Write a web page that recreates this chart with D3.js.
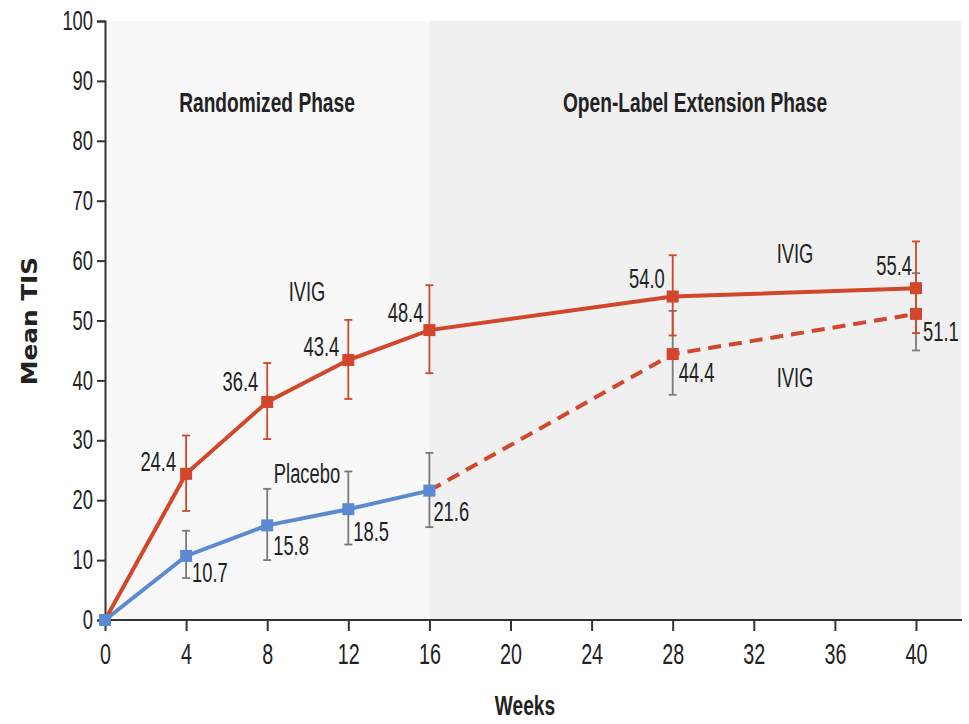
<!DOCTYPE html>
<html>
<head>
<meta charset="utf-8">
<script src="https://cdn.jsdelivr.net/npm/d3@7"></script>
<style>
  body { margin: 0; background: #fff; }
  text { font-family: "Liberation Sans", Arial, sans-serif; fill: #222; }
</style>
</head>
<body>
<div id="chart"></div>
<script>
// week values and tick labels
var xTicks = [0, 4, 8, 12, 16, 20, 24, 28, 32, 36, 40];
var yTicks = [0, 10, 20, 30, 40, 50, 60, 70, 80, 90, 100];

// IVIG group (solid red line)
var ivigWeeks = [0, 4, 8, 12, 16, 28, 40];
var ivigMean = [0, 24.4, 36.4, 43.4, 48.4, 54.0, 55.4];
var ivigHigh = [null, 30.8, 42.9, 50.1, 55.9, 60.9, 63.2];
var ivigLow = [null, 18.2, 30.2, 36.9, 41.2, 47.5, 47.9];

// placebo group, randomized phase (blue line)
var placeboWeeks = [0, 4, 8, 12, 16];
var placeboMean = [0, 10.7, 15.8, 18.5, 21.6];
var placeboHigh = [null, 14.9, 21.9, 24.8, 27.9];
var placeboLow = [null, 7.0, 10.0, 12.6, 15.5];

// placebo group switched to IVIG in extension (dashed red line)
var switchWeeks = [16, 28, 40];
var switchMean = [21.6, 44.4, 51.1];
var switchHigh = [null, 51.6, 57.9];
var switchLow = [null, 37.6, 45.0];

var width = 969, height = 724;
var margin = {top: 21, right: 7, bottom: 104, left: 105};
var red = '#d2472b', blue = '#5b8ad2', gray = '#7a7a7a';
var squeeze = 0.68;   // narrow type like the original

var svg = d3.select('#chart').append('svg').attr('width', width).attr('height', height);

var x = d3.scaleLinear().domain([0, 40]).range([margin.left, 916]);
var y = d3.scaleLinear().domain([0, 100]).range([height - margin.bottom, margin.top]);

// condensed text helper
function ctext(str, px, py, size, anchor, bold, sx) {
    return svg.append('text')
        .attr('transform', 'translate(' + px + ',' + py + ') scale(' + (sx || squeeze) + ',1)')
        .attr('dy', '0.35em')
        .attr('text-anchor', anchor || 'middle')
        .style('font-size', size + 'px')
        .style('font-weight', bold ? 'bold' : 'normal')
        .text(str);
}

// phase backgrounds
svg.append('rect')
    .attr('x', x(0)).attr('y', y(100))
    .attr('width', x(16) - x(0)).attr('height', y(0) - y(100))
    .attr('fill', '#f8f8f8');
svg.append('rect')
    .attr('x', x(16)).attr('y', y(100))
    .attr('width', 961 - x(16)).attr('height', y(0) - y(100))
    .attr('fill', '#f0f0f0');

ctext('Randomized Phase', 267, 103, 27, 'middle', true, 0.71);
ctext('Open-Label Extension Phase', 695, 103, 27, 'middle', true, 0.71);

// axes
var yAxis = svg.append('g').attr('transform', 'translate(' + x(0) + ',0)')
    .call(d3.axisLeft(y).tickValues(yTicks).tickSize(8).tickPadding(3));
var xAxis = svg.append('g').attr('transform', 'translate(0,' + y(0) + ')')
    .call(d3.axisBottom(x).tickValues(xTicks).tickSize(11).tickPadding(12));
xAxis.select('.domain').attr('d', 'M' + x(0) + ',0H962');
[yAxis, xAxis].forEach(function (g) {
    g.select('.domain').attr('stroke', '#333').attr('stroke-width', 2);
    g.selectAll('.tick line').attr('stroke', '#333').attr('stroke-width', 2);
    g.selectAll('.tick text').attr('fill', '#222')
        .style('font-family', '"Liberation Sans", Arial, sans-serif')
        .attr('transform', 'scale(' + squeeze + ',1)');
});
yAxis.selectAll('.tick text').style('font-size', '27px').attr('x', -12 / squeeze);
xAxis.selectAll('.tick text').style('font-size', '29px');

ctext('Weeks', 525, 706, 27, 'middle', true, 0.71);
svg.append('text').attr('transform', 'translate(30,321) rotate(-90) scale(1.18,1)').attr('text-anchor', 'middle')
    .attr('dy', '0.35em')
    .style('font-family', '"DejaVu Sans", sans-serif')
    .style('font-size', '21px').style('font-weight', 'bold').text('Mean TIS');

function makeSeries(wk, mean, hi, lo) {
    return wk.map(function (w, i) {
        return {week: w, mean: mean[i], hi: hi[i], lo: lo[i]};
    });
}
var ivig = makeSeries(ivigWeeks, ivigMean, ivigHigh, ivigLow);
var placebo = makeSeries(placeboWeeks, placeboMean, placeboHigh, placeboLow);
var switched = makeSeries(switchWeeks, switchMean, switchHigh, switchLow);

function errorBars(data, color) {
    var g = svg.append('g').attr('stroke', color).attr('stroke-width', 1.8);
    var d = data.filter(function (p) { return p.hi !== null; });
    g.selectAll('.v').data(d).enter().append('line')
        .attr('x1', function (p) { return x(p.week); }).attr('x2', function (p) { return x(p.week); })
        .attr('y1', function (p) { return y(p.hi); }).attr('y2', function (p) { return y(p.lo); });
    ['hi', 'lo'].forEach(function (k) {
        g.selectAll('.c' + k).data(d).enter().append('line')
            .attr('x1', function (p) { return x(p.week) - 4; }).attr('x2', function (p) { return x(p.week) + 4; })
            .attr('y1', function (p) { return y(p[k]); }).attr('y2', function (p) { return y(p[k]); });
    });
}

var line = d3.line().x(function (p) { return x(p.week); }).y(function (p) { return y(p.mean); });

errorBars(placebo, gray);
errorBars(switched, gray);
errorBars(ivig, red);

svg.append('path').datum(switched).attr('d', line).attr('fill', 'none')
    .attr('stroke', red).attr('stroke-width', 4).attr('stroke-dasharray', '13,8');
svg.append('path').datum(placebo).attr('d', line).attr('fill', 'none')
    .attr('stroke', blue).attr('stroke-width', 4);
svg.append('path').datum(ivig).attr('d', line).attr('fill', 'none')
    .attr('stroke', red).attr('stroke-width', 4);

function markers(data, color) {
    svg.append('g').selectAll('rect').data(data).enter().append('rect')
        .attr('x', function (p) { return x(p.week) - 6; })
        .attr('y', function (p) { return y(p.mean) - 6; })
        .attr('width', 12).attr('height', 12).attr('fill', color);
}
markers(switched.slice(1), red);
markers(placebo, blue);
markers(ivig.slice(1), red);

// value labels: offsets from marker [dx, dy, anchor]
var ivigLabelPos = [null, [-10, -12, 'end'], [-9, -20, 'end'], [-9, -13, 'end'], [-6, -18, 'end'], [-8, -18, 'end'], [-4, -23, 'end']];
var placeboLabelPos = [null, [6, 17, 'start'], [6, 20, 'start'], [5, 22, 'start'], [4, 21, 'start']];
var switchLabelPos = [null, [6, 18, 'start'], [7, 18, 'start']];

function valueLabels(data, pos) {
    data.forEach(function (p, i) {
        if (!pos[i]) return;
        ctext(p.mean.toFixed(1), x(p.week) + pos[i][0], y(p.mean) + pos[i][1], 27, pos[i][2]);
    });
}
valueLabels(ivig, ivigLabelPos);
valueLabels(placebo, placeboLabelPos);
valueLabels(switched, switchLabelPos);

// series names
var seriesNames = [['IVIG', 307, 292], ['Placebo', 307, 474], ['IVIG', 795, 254], ['IVIG', 795, 378]];
seriesNames.forEach(function (s) {
    ctext(s[0], s[1], s[2], 27, 'middle');
});
</script>
</body>
</html>
